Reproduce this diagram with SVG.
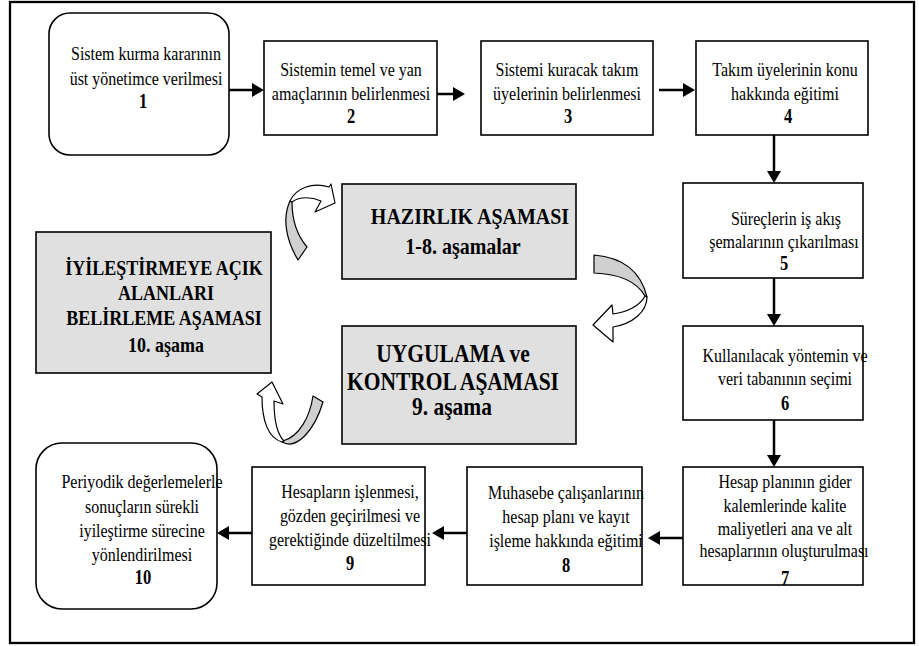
<svg xmlns="http://www.w3.org/2000/svg" width="919" height="646" viewBox="0 0 919 646">
<defs>
<style>
.frame{fill:#fff;stroke:#000;stroke-width:2.3}
.box{fill:#fff;stroke:#000;stroke-width:1.6}
.gbox{fill:#e0e0e0;stroke:#000;stroke-width:1.6}
.t{font-size:16px;text-anchor:middle;fill:#000}
.n{font-weight:bold;font-size:16.5px}
.h{font-weight:bold;text-anchor:middle;fill:#000}
.conn{stroke:#000;stroke-width:2.5;fill:none;marker-end:url(#ah)}
.cg{fill:#d0d0d0;stroke:#000;stroke-width:1.2;stroke-linejoin:round}
.cw{fill:#fff;stroke:#000;stroke-width:1.2;stroke-linejoin:round}
</style>
<marker id="ah" viewBox="0 0 12 14" refX="0" refY="7" markerWidth="12" markerHeight="14" markerUnits="userSpaceOnUse" orient="auto">
<path d="M0,0 L12,7 L0,14 Z" fill="#000"/>
</marker>
</defs>
<rect class="frame" x="10" y="2" width="904" height="641"/>

<g id="connectors">
<line class="conn" x1="229" y1="90" x2="252" y2="90"/>
<line class="conn" x1="437" y1="94" x2="453" y2="94"/>
<line class="conn" x1="659" y1="90" x2="683" y2="90"/>
<line class="conn" x1="774" y1="135" x2="774" y2="171"/>
<line class="conn" x1="774" y1="278" x2="774" y2="314"/>
<line class="conn" x1="774" y1="420" x2="774" y2="455"/>
<line class="conn" x1="683" y1="538" x2="660" y2="538"/>
<line class="conn" x1="467" y1="533" x2="444" y2="533"/>
<line class="conn" x1="252" y1="533" x2="229" y2="533"/>
<g id="cycle-arrow-top">
<path class="cg" d="M298,260 C286,240 282,218 290,201 L292,202 C292,220 296,234 307,247 Z"/>
<path class="cw" d="M290,201 C296,188 312,182 329,187 L331,184 L335,203 L315,212 L321,201 C312,197 300,196 292,202 Z"/>
</g>
<g id="cycle-arrow-right">
<path class="cg" d="M594,255 C618,257 640,268 647,297 L645,296 C638,284 624,274 594,273 Z"/>
<path class="cw" d="M647,297 C647,312 632,324 613,327 L613,342 L593,325 L612,305 L613,314 C627,312 640,306 645,296 Z"/>
</g>
<g id="cycle-arrow-left">
<path class="cg" d="M282,442 C296,450 314,432 323,402 L313,396 C310,416 300,436 283,441 Z"/>
<path class="cw" d="M282,442 C268,438 262,420 262,397 L257,394 L272,382 L283,404 L274,401 C274,420 277,434 284,441 Z"/>
</g>
</g>

<g font-family="Liberation Serif, Times New Roman, serif">
<g id="n1">
<rect class="box" x="49" y="13" width="180" height="142" rx="21"/>
<text class="t" transform="translate(146 60) scale(1 1.22)">Sistem kurma kararının</text>
<text class="t" transform="translate(146 85) scale(1 1.22)">üst yönetimce verilmesi</text>
<text class="t n" transform="translate(143 108) scale(1 1.22)">1</text>
</g>
<g id="n2">
<rect class="box" x="264" y="41" width="173" height="94"/>
<text class="t" transform="translate(351 76) scale(1 1.22)">Sistemin temel ve yan</text>
<text class="t" transform="translate(351 100) scale(1 1.22)">amaçlarının belirlenmesi</text>
<text class="t n" transform="translate(351 123) scale(1 1.22)">2</text>
</g>
<g id="n3">
<rect class="box" x="481" y="41" width="172" height="94"/>
<text class="t" transform="translate(567 76) scale(1 1.22)">Sistemi kuracak takım</text>
<text class="t" transform="translate(567 100) scale(1 1.22)">üyelerinin belirlenmesi</text>
<text class="t n" transform="translate(568 123) scale(1 1.22)">3</text>
</g>
<g id="n4">
<rect class="box" x="696" y="41" width="172" height="94"/>
<text class="t" transform="translate(785 76) scale(1 1.22)">Takım üyelerinin konu</text>
<text class="t" transform="translate(785 100) scale(1 1.22)">hakkında eğitimi</text>
<text class="t n" transform="translate(788 123) scale(1 1.22)">4</text>
</g>
<g id="n5">
<rect class="box" x="683" y="183" width="180" height="95"/>
<text class="t" transform="translate(786 225) scale(1 1.22)">Süreçlerin iş akış</text>
<text class="t" transform="translate(784 248) scale(1 1.22)">şemalarının çıkarılması</text>
<text class="t n" transform="translate(784 270) scale(1 1.22)">5</text>
</g>
<g id="n6">
<rect class="box" x="683" y="326" width="180" height="94"/>
<text class="t" transform="translate(785 362) scale(1 1.22)">Kullanılacak yöntemin ve</text>
<text class="t" transform="translate(785 385) scale(1 1.22)">veri tabanının seçimi</text>
<text class="t n" transform="translate(785 410) scale(1 1.22)">6</text>
</g>
<g id="n7">
<rect class="box" x="683" y="467" width="180" height="118"/>
<text class="t" transform="translate(785 488) scale(1 1.22)">Hesap planının gider</text>
<text class="t" transform="translate(785 512) scale(1 1.22)">kalemlerinde kalite</text>
<text class="t" transform="translate(785 535) scale(1 1.22)">maliyetleri ana ve alt</text>
<text class="t" transform="translate(784 557) scale(1 1.22)">hesaplarının oluşturulması</text>
<text class="t n" transform="translate(785 585) scale(1 1.22)">7</text>
</g>
<g id="n8">
<rect class="box" x="467" y="467" width="175" height="118"/>
<text class="t" transform="translate(566 499) scale(1 1.22)">Muhasebe çalışanlarının</text>
<text class="t" transform="translate(566 523) scale(1 1.22)">hesap planı ve kayıt</text>
<text class="t" transform="translate(566 547) scale(1 1.22)">işleme hakkında eğitimi</text>
<text class="t n" transform="translate(566 572) scale(1 1.22)">8</text>
</g>
<g id="n9">
<rect class="box" x="252" y="467" width="173" height="118"/>
<text class="t" transform="translate(350 498) scale(1 1.22)">Hesapların işlenmesi,</text>
<text class="t" transform="translate(350 522) scale(1 1.22)">gözden geçirilmesi ve</text>
<text class="t" transform="translate(350 546) scale(1 1.22)">gerektiğinde düzeltilmesi</text>
<text class="t n" transform="translate(350 570) scale(1 1.22)">9</text>
</g>
<g id="n10">
<rect class="box" x="36" y="443" width="181" height="166" rx="26"/>
<text class="t" transform="translate(142 488) scale(1 1.22)">Periyodik değerlemelerle</text>
<text class="t" transform="translate(142 513) scale(1 1.22)">sonuçların sürekli</text>
<text class="t" transform="translate(142 537) scale(1 1.22)">iyileştirme sürecine</text>
<text class="t" transform="translate(142 561) scale(1 1.22)">yönlendirilmesi</text>
<text class="t n" transform="translate(143 584) scale(1 1.22)">10</text>
</g>

<g id="phase-hazirlik">
<rect class="gbox" x="342" y="184" width="234" height="95"/>
<text class="h" font-size="20" transform="translate(470 224) scale(1 1.2)">HAZIRLIK AŞAMASI</text>
<text class="h" font-size="20" transform="translate(463 254) scale(1 1.2)">1-8. aşamalar</text>
</g>
<g id="phase-uygulama">
<rect class="gbox" x="342" y="326" width="234" height="118"/>
<text class="h" font-size="21.5" transform="translate(453 362) scale(1 1.15)">UYGULAMA ve</text>
<text class="h" font-size="21.5" transform="translate(453 390) scale(1 1.15)">KONTROL AŞAMASI</text>
<text class="h" font-size="21.5" transform="translate(452 415) scale(1 1.15)">9. aşama</text>
</g>
<g id="phase-iyilestirme">
<rect class="gbox" x="36" y="232" width="235" height="141"/>
<text class="h" font-size="18" transform="translate(164 275) scale(1 1.22)">İYİLEŞTİRMEYE AÇIK</text>
<text class="h" font-size="18" transform="translate(166 300) scale(1 1.22)">ALANLARI</text>
<text class="h" font-size="18" transform="translate(164 325) scale(1 1.22)">BELİRLEME AŞAMASI</text>
<text class="h" font-size="18" transform="translate(166 352) scale(1 1.22)">10. aşama</text>
</g>
</g>
</svg>
